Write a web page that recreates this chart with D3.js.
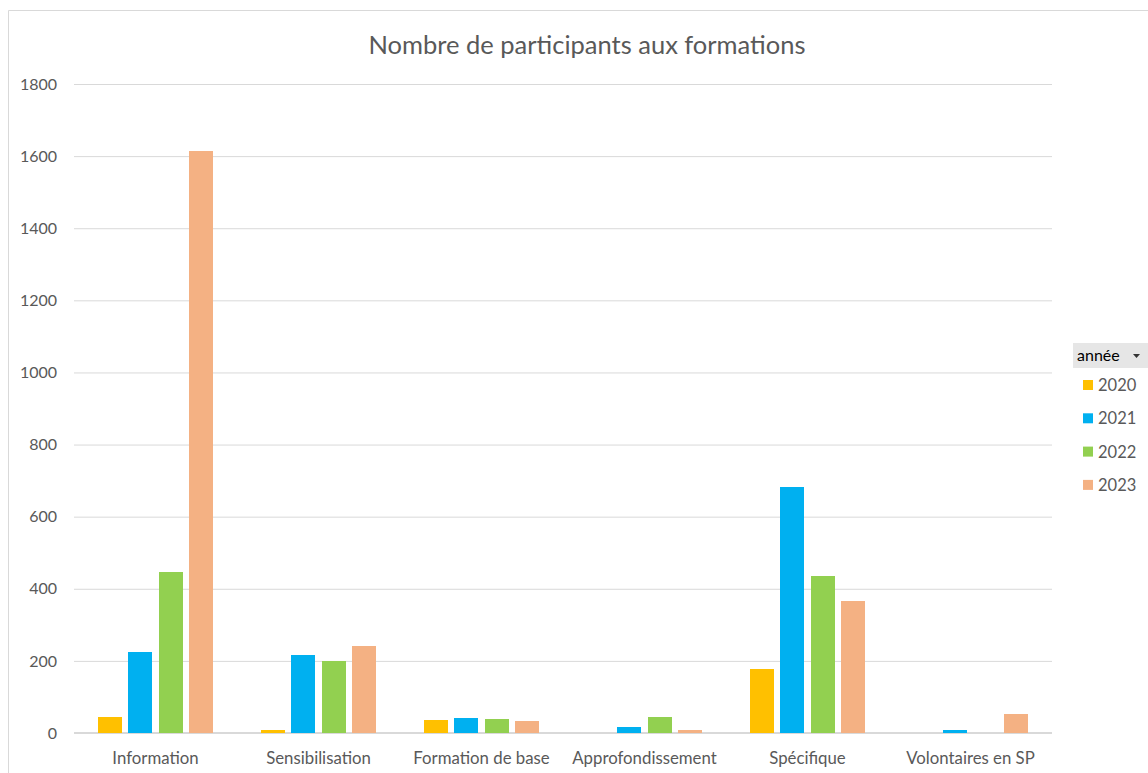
<!DOCTYPE html>
<html>
<head>
    <meta charset="utf-8">
    <title></title>
    <script src="https://cdn.jsdelivr.net/npm/d3@7"></script>
    <style>
        body { margin: 0; background: #fff; }
        text { font-family: Lato, "Open Sans", sans-serif; fill: #595959; }
    </style>
</head>
<body>
    <svg id="chart" width="1148" height="773"></svg>
    <script>

    var categories = ["Information", "Sensibilisation", "Formation de base",
                      "Approfondissement", "Spécifique", "Volontaires en SP"];
    var years = ["2020", "2021", "2022", "2023"];
    var colors = ["#ffc000", "#00b0f0", "#92d050", "#f4b183"];

    var v2020 = [43, 7, 35, 0, 178, 0];
    var v2021 = [225, 215, 42, 17, 682, 4];
    var v2022 = [446, 199, 40, 45, 435, 0];
    var v2023 = [1614, 241, 32, 6, 366, 53];
    var series = [v2020, v2021, v2022, v2023];

    var yTicks = [0, 200, 400, 600, 800, 1000, 1200, 1400, 1600, 1800];

    var svg = d3.select("#chart");

    // chart frame
    svg.append("path")
        .attr("d", "M8.5,773 V10.5 H1148")
        .attr("fill", "none").attr("stroke", "#d9d9d9");

    var x0 = d3.scaleBand().domain(categories).range([74, 1052])
        .paddingInner(0.26).paddingOuter(0.13);
    var x1 = d3.scaleBand().domain(years).range([0, x0.bandwidth()])
        .paddingInner(0.2).paddingOuter(0.1);
    var y = d3.scaleLinear().domain([0, 1800]).range([733, 84]);

    // gridlines + y labels
    var yAxis = d3.axisLeft(y).tickValues(yTicks).tickFormat(d3.format("d"))
        .tickSize(-(1052 - 74)).tickPadding(17);
    var gy = svg.append("g").attr("transform", "translate(74,0)").call(yAxis);
    gy.select(".domain").remove();
    gy.selectAll("line").attr("stroke", "#d9d9d9");
    gy.selectAll("text").attr("font-size", 16).style("fill", "#595959");

    // x axis (drawn before the bars so small bars stay visible)
    var xAxis = d3.axisBottom(x0).tickSize(0).tickPadding(19);
    var gx = svg.append("g").attr("transform", "translate(0,733)").call(xAxis);
    gx.select(".domain").attr("stroke", "#d9d9d9").attr("stroke-width", 2)
        .attr("d", "M74,0H1052");
    gx.selectAll("text").attr("font-size", 16.8).style("fill", "#595959");

    // bars
    var groups = svg.append("g").selectAll("g")
        .data(categories).enter().append("g")
        .attr("transform", d => "translate(" + x0(d) + ",0)");

    groups.selectAll("rect")
        .data((c, i) => years.map((yr, j) => ({ year: yr, j: j, v: series[j][i] })))
        .enter().append("rect")
        .filter(d => d.v > 0)
        .attr("x", d => x1(d.year))
        .attr("width", x1.bandwidth())
        .attr("y", d => Math.min(y(d.v), y(0) - 3))
        .attr("height", d => Math.max(3, y(0) - y(d.v)))
        .attr("shape-rendering", "crispEdges")
        .attr("fill", d => colors[d.j]);

    // title
    svg.append("text").attr("x", 587).attr("y", 54)
        .attr("text-anchor", "middle").attr("font-size", 25.5)
        .text("Nombre de participants aux formations");

    // legend
    var lg = svg.append("g").attr("transform", "translate(1073,343)");
    lg.append("rect").attr("width", 75).attr("height", 25).attr("fill", "#e6e6e6");
    lg.append("text").attr("x", 4).attr("y", 18).attr("font-size", 16)
        .style("fill", "#000").text("année");
    lg.append("path").attr("d", "M60,11 h7 l-3.5,4 z").attr("fill", "#333");

    var items = lg.selectAll(".item").data(years).enter().append("g")
        .attr("transform", (d, i) => "translate(0," + (48 + i * 33.3) + ")");
    items.append("rect").attr("x", 10).attr("y", -11).attr("width", 10).attr("height", 10)
        .attr("fill", (d, i) => colors[i]);
    items.append("text").attr("x", 25).attr("y", 0).attr("font-size", 16.5).text(d => d);

    </script>
</body>
</html>
